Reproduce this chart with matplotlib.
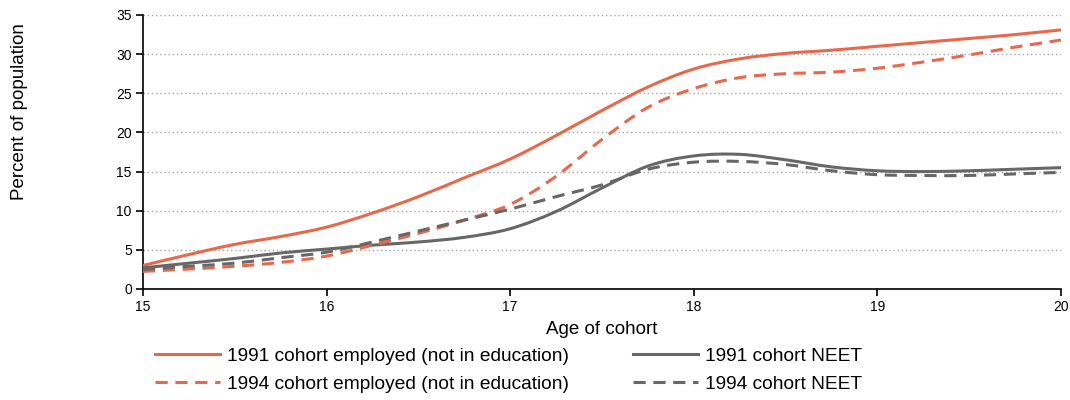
import matplotlib
matplotlib.use('Agg')
import matplotlib.pyplot as plt
from matplotlib.path import Path
from matplotlib.patches import PathPatch
from matplotlib.lines import Line2D
import numpy as np

plt.rcParams['font.family'] = ['Liberation Sans', 'DejaVu Sans']

ORANGE = '#E8684C'
GREY = '#676767'

# ages at quarter-year steps
ages = [15, 15.25, 15.5, 15.75, 16, 16.25, 16.5, 16.75, 17, 17.25, 17.5,
        17.75, 18, 18.25, 18.5, 18.75, 19, 19.25, 19.5, 19.75, 20]

emp_1991 = [3.0, 4.4, 5.7, 6.7, 7.9, 9.7, 11.8, 14.2, 16.6, 19.6, 22.8,
            25.8, 28.1, 29.4, 30.1, 30.5, 31.0, 31.5, 32.0, 32.5, 33.1]
emp_1994 = [2.25, 2.55, 2.9, 3.4, 4.2, 5.6, 7.1, 8.8, 10.8, 14.4, 19.1,
            23.2, 25.6, 27.0, 27.5, 27.7, 28.2, 29.0, 29.9, 30.9, 31.8]
neet_1991 = [2.7, 3.3, 3.9, 4.6, 5.1, 5.6, 6.0, 6.6, 7.7, 9.9, 12.9,
             15.7, 17.0, 17.2, 16.5, 15.6, 15.1, 15.0, 15.1, 15.3, 15.5]
neet_1994 = [2.5, 2.9, 3.3, 4.0, 4.7, 6.0, 7.4, 8.8, 10.2, 11.8, 13.3,
             15.3, 16.2, 16.3, 15.9, 15.1, 14.6, 14.5, 14.5, 14.7, 14.9]

series_labels = ['1991 cohort employed (not in education)',
                 '1991 cohort NEET',
                 '1994 cohort employed (not in education)',
                 '1994 cohort NEET']

DASH = (0, (4, 2.5))


def smooth_path(x, y):
    # Excel-like smoothed line: Catmull-Rom segments as cubic Beziers
    pts = np.column_stack([x, y]).astype(float)
    n = len(pts)
    verts = [pts[0]]
    codes = [Path.MOVETO]
    for i in range(n - 1):
        p0 = pts[i - 1] if i > 0 else pts[i]
        p1 = pts[i]
        p2 = pts[i + 1]
        p3 = pts[i + 2] if i + 2 < n else pts[i + 1]
        c1 = p1 + (p2 - p0) / 6.0
        c2 = p2 - (p3 - p1) / 6.0
        verts += [c1, c2, p2]
        codes += [Path.CURVE4] * 3
    return Path(verts, codes)


def add_curve(ax, x, y, color, ls):
    patch = PathPatch(smooth_path(x, y), fill=False, edgecolor=color,
                      lw=2.2, linestyle=ls, capstyle='butt', joinstyle='round',
                      transform=ax.transData, zorder=3)
    ax.add_patch(patch)


fig = plt.figure(figsize=(10.7, 4.0), dpi=100)
ax = fig.add_axes([0.1336, 0.2775, 0.8580, 0.6850])

add_curve(ax, ages, emp_1991, ORANGE, '-')
add_curve(ax, ages, neet_1991, GREY, '-')
add_curve(ax, ages, emp_1994, ORANGE, DASH)
add_curve(ax, ages, neet_1994, GREY, DASH)

ax.set_xlim(15, 20)
ax.set_ylim(0, 35)
ax.set_xticks([15, 16, 17, 18, 19, 20])
ax.set_yticks(np.arange(0, 36, 5))
ax.tick_params(axis='both', direction='out', length=5, width=1.2,
               labelsize=10, colors='black', pad=3)

for y in range(5, 36, 5):
    ax.axhline(y, color='#A6A6A6', lw=1.0, linestyle=(0, (1, 2)), zorder=1)

for side in ['top', 'right']:
    ax.spines[side].set_visible(False)
for side in ['left', 'bottom']:
    ax.spines[side].set_linewidth(1.2)
    ax.spines[side].set_color('black')

ax.set_xlabel('Age of cohort', fontsize=13.5, labelpad=5)
fig.text(0.018, 0.72, 'Percent of population', rotation=90, fontsize=13.5,
         ha='center', va='center')

handles = [Line2D([], [], color=ORANGE, lw=2.2, linestyle='-'),
           Line2D([], [], color=GREY, lw=2.2, linestyle='-'),
           Line2D([], [], color=ORANGE, lw=2.2, linestyle=DASH),
           Line2D([], [], color=GREY, lw=2.2, linestyle=DASH)]
# order so columns read: employed | NEET
fig.legend([handles[0], handles[2], handles[1], handles[3]],
           [series_labels[0], series_labels[2], series_labels[1], series_labels[3]],
           ncol=2, loc='center left', bbox_to_anchor=(0.132, 0.074),
           frameon=False, fontsize=13.8, handlelength=3.4, handletextpad=0.35,
           columnspacing=3.35, labelspacing=0.55, borderpad=0.2)

fig.savefig('out.png', dpi=100, facecolor='white')
